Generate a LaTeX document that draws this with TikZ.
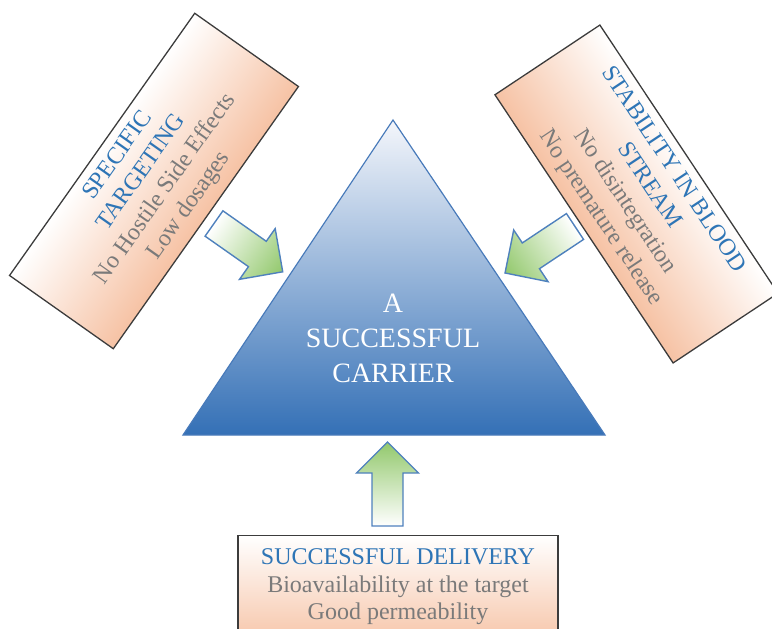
\documentclass[tikz,border=0pt]{standalone}
\usepackage{fontspec}
\setmainfont{Liberation Serif}
\definecolor{peach}{RGB}{246,194,164}
\definecolor{headblue}{RGB}{46,117,182}
\definecolor{subgray}{RGB}{122,122,122}
\definecolor{boxline}{RGB}{60,60,60}
\definecolor{tritop}{RGB}{244,246,251}
\definecolor{tribot}{RGB}{52,112,182}
\definecolor{triline}{RGB}{72,122,186}
\definecolor{arrgreen}{RGB}{146,200,108}
\definecolor{arrline}{RGB}{79,129,189}
\tikzset{
  sidebox/.style={draw=boxline, line width=1.3pt, top color=white, middle color=peach!40!white, bottom color=peach,
    minimum height=127pt, inner sep=0pt, align=center, text=subgray,
    font=\fontsize{24}{29}\selectfont},
  blockarr/.style={draw=arrline, line width=1.4pt, left color=white, right color=arrgreen, line join=miter},
}
\newcommand\myblockarrow{%
  \path[blockarr] (0,-15.5) -- (53,-15.5) -- (53,-31) -- (84,0) -- (53,31) -- (53,15.5) -- (0,15.5) -- cycle;}
\begin{document}
\begin{tikzpicture}[x=1pt,y=-1pt]
\useasboundingbox (0,0) rectangle (772,629);
% triangle
\coordinate (apex) at (393,120);
\coordinate (bright) at (605,435);
\coordinate (bleft) at (183,435);
\path[draw=triline, line width=1.2pt, top color=tritop, bottom color=tribot] (apex) -- (bright) -- (bleft) -- cycle;
\node[text=white, align=center, font=\fontsize{28}{35}\selectfont] (carrier) at (393,338) {A\\SUCCESSFUL\\CARRIER};
% left box
\begin{scope}[transform canvas={shift={(154,181)},rotate=54.77}]
\node[sidebox, minimum width=321pt] (targeting) at (0,0)
  {\textcolor{headblue}{SPECIFIC}\\\textcolor{headblue}{TARGETING}\\No Hostile Side Effects\\Low dosages};
\end{scope}
% right box
\begin{scope}[transform canvas={shift={(636.5,194)},rotate=-56.4}]
\node[sidebox, minimum width=322pt, minimum height=126pt] (stability) at (0,0)
  {\textcolor{headblue}{STABILITY IN BLOOD}\\\textcolor{headblue}{STREAM}\\No disintegration\\No premature release};
\end{scope}
% bottom box
\node[draw=boxline, line width=1.3pt, top color=white, bottom color=peach,
  minimum width=320pt, minimum height=112pt, anchor=north, inner sep=0pt] (delivery) at (398,535) {};
\node[align=center, text=subgray, font=\fontsize{24}{27.5}\selectfont] (deliverytext) at (398,587)
  {\textcolor{headblue}{SUCCESSFUL DELIVERY}\\Bioavailability at the target\\Good permeability};
% arrows
\begin{scope}[transform canvas={shift={(214,223.5)},rotate=-35.1}]
\myblockarrow
\end{scope}
\begin{scope}[transform canvas={shift={(575,226.5)},rotate=213.6}]
\myblockarrow
\end{scope}
\begin{scope}[transform canvas={shift={(387.5,526)},rotate=90}]
\myblockarrow
\end{scope}
\end{tikzpicture}
\end{document}
